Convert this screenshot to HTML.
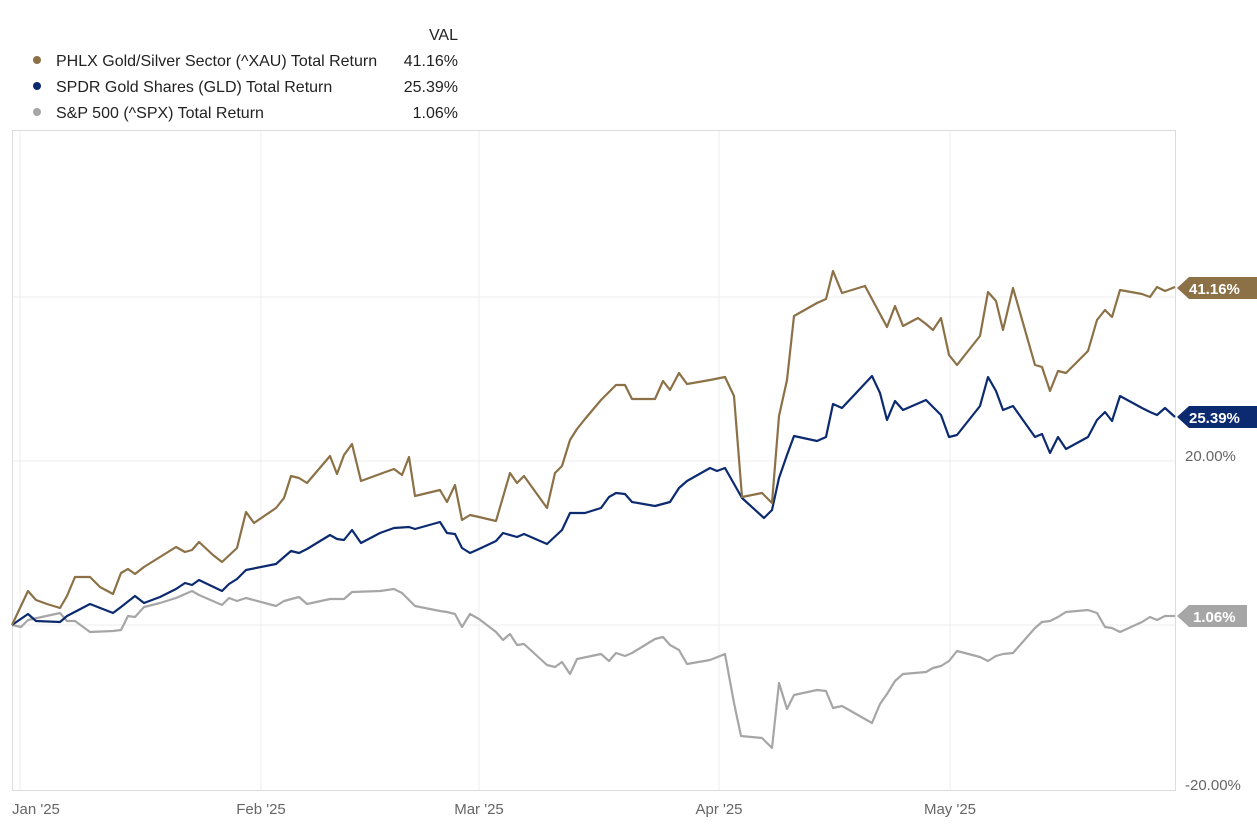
<!DOCTYPE html>
<html><head><meta charset="utf-8"><style>
body{margin:0;background:#fff;width:1257px;height:834px;overflow:hidden;font-family:"Liberation Sans",sans-serif;}
</style></head><body>
<svg width="1257" height="834" viewBox="0 0 1257 834" xmlns="http://www.w3.org/2000/svg" font-family="Liberation Sans, sans-serif">
<g font-size="16" fill="#222">
<text x="458" y="40" text-anchor="end">VAL</text>
<circle cx="37" cy="60" r="4" fill="#8c7147"/><text x="56" y="66">PHLX Gold/Silver Sector (^XAU) Total Return</text><text x="458" y="66" text-anchor="end">41.16%</text>
<circle cx="37" cy="86" r="4" fill="#0b2a6f"/><text x="56" y="92">SPDR Gold Shares (GLD) Total Return</text><text x="458" y="92" text-anchor="end">25.39%</text>
<circle cx="37" cy="112" r="4" fill="#a6a6a6"/><text x="56" y="118">S&amp;P 500 (^SPX) Total Return</text><text x="458" y="118" text-anchor="end">1.06%</text>
</g>
<g stroke="#ececec" stroke-width="1">
<line x1="12" y1="297" x2="1175" y2="297"/><line x1="12" y1="461" x2="1175" y2="461"/><line x1="12" y1="625" x2="1175" y2="625"/>
<line x1="20" y1="130" x2="20" y2="790"/><line x1="261" y1="130" x2="261" y2="790"/><line x1="479" y1="130" x2="479" y2="790"/><line x1="719" y1="130" x2="719" y2="790"/><line x1="950" y1="130" x2="950" y2="790"/>
</g>
<rect x="12.5" y="130.5" width="1163" height="660" fill="none" stroke="#dcdcdc"/>
<g font-size="15" fill="#666">
<text x="1185" y="461">20.00%</text><text x="1185" y="790">-20.00%</text>
<text x="12" y="814">Jan '25</text><text x="261" y="814" text-anchor="middle">Feb '25</text><text x="479" y="814" text-anchor="middle">Mar '25</text><text x="719" y="814" text-anchor="middle">Apr '25</text><text x="950" y="814" text-anchor="middle">May '25</text>
</g>
<g fill="none" stroke-width="2.2" stroke-linejoin="round">
<polyline stroke="#a6a6a6" points="12,625 21,627 28,620 60,613 67,621 75,621 90,632 113,631 121,630 128,616 135,617 144,607 160,603 176,598 192,591 199,595 222,605 229,598 237,601 246,598 276,606 284,601 299,597 307,604 330,599 344,599 352,592 380,591 394,589 402,593 415,606 440,611 447,612 455,614 462,627 470,614 479,619 496,632 503,640 510,634 517,645 524,644 547,665 555,667 562,662 570,674 577,659 601,654 609,661 616,653 625,656 632,653 655,639 663,637 670,645 679,650 687,664 710,660 725,654 734,703 741,736 762,738 772,748 779,683 787,709 794,695 817,690 826,691 833,708 842,706 872,723 880,704 887,694 895,681 903,674 926,672 933,668 941,666 949,661 957,651 980,657 988,661 996,656 1003,654 1013,653 1035,628 1042,622 1050,621 1058,617 1066,612 1088,610 1097,613 1105,627 1112,628 1120,632 1142,622 1150,617 1157,620 1165,616 1175,616"/>
<polyline stroke="#0b2a6f" points="12,625 28,614 36,621 60,622 67,616 90,604 113,613 121,607 135,596 144,603 160,597 176,589 185,583 192,585 199,580 222,591 229,584 237,579 246,570 276,564 284,557 291,551 299,553 307,549 330,535 337,539 344,540 352,530 361,543 380,533 394,528 409,527 415,529 440,522 447,533 455,534 462,548 470,553 479,549 496,541 503,533 517,537 524,534 547,544 562,530 570,513 585,513 601,508 609,497 616,493 625,494 632,502 655,506 670,502 679,488 687,481 710,468 717,471 725,468 742,498 764,518 772,510 779,478 787,455 794,436 817,441 826,437 833,404 842,408 872,376 880,393 887,420 895,401 903,410 926,400 941,415 949,437 957,435 980,406 988,377 996,391 1003,410 1013,406 1035,437 1042,434 1050,453 1058,437 1066,449 1088,437 1097,420 1105,412 1112,421 1120,396 1142,408 1150,412 1157,415 1165,408 1175,417"/>
<polyline stroke="#8c7147" points="12,625 28,591 36,600 47,604 60,608 67,596 75,577 90,577 100,587 113,594 121,573 128,569 135,574 144,567 160,557 176,547 185,552 192,550 199,542 213,555 222,562 237,548 246,512 254,523 276,508 284,498 291,476 299,478 307,483 330,456 337,474 344,455 352,444 361,481 380,474 394,469 402,475 409,457 415,496 440,490 447,502 455,485 462,520 470,515 479,517 496,521 510,473 517,483 524,476 547,508 555,473 562,466 570,440 577,429 585,419 601,400 616,385 625,385 632,399 655,399 663,381 670,390 679,373 687,384 710,380 725,377 734,396 742,497 762,493 772,503 779,416 787,380 794,316 817,303 826,299 833,271 842,293 865,286 887,327 895,306 903,326 918,318 926,324 933,330 941,318 949,355 957,365 980,336 988,292 996,301 1003,330 1013,288 1035,365 1042,367 1050,391 1058,371 1066,373 1088,351 1097,320 1105,310 1112,317 1120,290 1142,294 1150,297 1157,287 1165,291 1175,287"/>
</g>
<g font-size="15" font-weight="bold" fill="#fff">
<polygon points="1177,288 1189,277 1257,277 1257,299 1189,299" fill="#8c7147"/><text x="1189" y="294">41.16%</text>
<polygon points="1177,417 1189,406 1257,406 1257,428 1189,428" fill="#0b2a6f"/><text x="1189" y="423">25.39%</text>
<polygon points="1177,616 1189,605 1247,605 1247,627 1189,627" fill="#a6a6a6"/><text x="1193" y="622">1.06%</text>
</g>
</svg>
</body></html>
